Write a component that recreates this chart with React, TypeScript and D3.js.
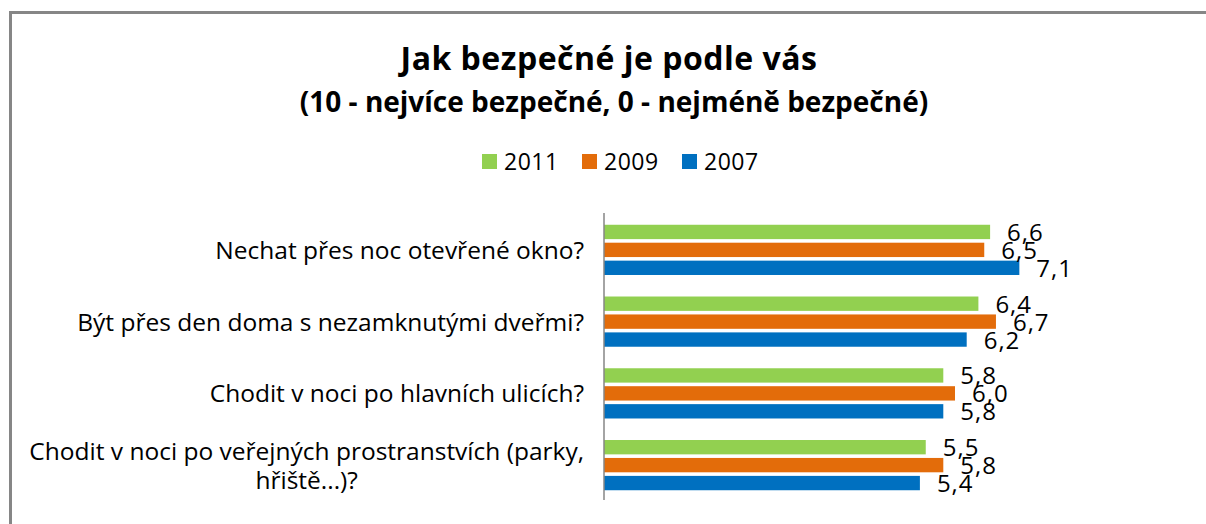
import React, { useEffect, useRef } from "react";
import * as d3 from "d3";

const categories = [
  ["Nechat přes noc otevřené okno?"],
  ["Být přes den doma s nezamknutými dveřmi?"],
  ["Chodit v noci po hlavních ulicích?"],
  ["Chodit v noci po veřejných prostranstvích (parky,", "hřiště...)?"],
];
const seriesNames = ["2011", "2009", "2007"];
const values2011 = [6.6, 6.4, 5.8, 5.5];
const values2009 = [6.5, 6.7, 6.0, 5.8];
const values2007 = [7.1, 6.2, 5.8, 5.4];
const colors = ["#92D050", "#E36C0A", "#0070C0"];
const titleLine1 = "Jak bezpečné je podle vás";
const titleLine2 = "(10 - nejvíce bezpečné, 0 - nejméně bezpečné)";

const W = 1206;
const H = 524;
const FONT = "'Open Sans', Lato, sans-serif";

export default function App() {
  const ref = useRef<SVGSVGElement | null>(null);

  useEffect(() => {
    const svg = d3.select(ref.current);
    svg.selectAll("*").remove();

    svg.append("rect").attr("x", 0).attr("y", 0).attr("width", W).attr("height", H).attr("fill", "#fff");
    // outer frame
    svg
      .append("rect")
      .attr("x", 10.5)
      .attr("y", 12.5)
      .attr("width", W + 20)
      .attr("height", H + 20)
      .attr("fill", "none")
      .attr("stroke", "#868686")
      .attr("stroke-width", 3);

    // titles
    svg
      .append("text")
      .attr("x", 609)
      .attr("y", 70)
      .attr("text-anchor", "middle")
      .attr("font-family", FONT)
      .attr("font-weight", "bold")
      .attr("font-size", 32)
      .attr("letter-spacing", 0.5)
      .attr("fill", "#000")
      .text(titleLine1);
    svg
      .append("text")
      .attr("x", 614)
      .attr("y", 112)
      .attr("text-anchor", "middle")
      .attr("font-family", FONT)
      .attr("font-weight", "bold")
      .attr("font-size", 28)
      .attr("fill", "#000")
      .text(titleLine2);

    // legend
    const legend = svg.append("g");
    seriesNames.forEach((name, i) => {
      const lx = 482 + i * 100;
      legend.append("rect").attr("x", lx).attr("y", 154).attr("width", 15).attr("height", 15).attr("fill", colors[i]);
      legend
        .append("text")
        .attr("x", lx + 22)
        .attr("y", 169.5)
        .attr("font-family", FONT)
        .attr("font-size", 23)
        .attr("letter-spacing", 0.5)
        .attr("fill", "#000")
        .text(name);
    });

    const data = [values2011, values2009, values2007];
    const x = d3.scaleLinear().domain([0, 10]).range([604, 1189]);
    const idx = categories.map((_, i) => String(i));
    const y0 = d3.scaleBand().domain(idx).range([214, 501]).paddingInner(0.25).paddingOuter(0.125);
    const y1 = d3.scaleBand().domain(seriesNames).range([0, y0.bandwidth()]).paddingInner(0.2).paddingOuter(0.1);

    // bars
    data.forEach((vals, si) => {
      svg
        .append("g")
        .selectAll("rect")
        .data(vals)
        .join("rect")
        .attr("x", x(0))
        .attr("y", (_, ci) => (y0(String(ci)) as number) + (y1(seriesNames[si]) as number))
        .attr("width", (v) => x(v) - x(0))
        .attr("height", y1.bandwidth())
        .attr("fill", colors[si]);
    });

    // axis line
    svg
      .append("line")
      .attr("x1", 604)
      .attr("x2", 604)
      .attr("y1", 213)
      .attr("y2", 500)
      .attr("stroke", "#868686")
      .attr("stroke-width", 1.5);

    // value labels
    data.forEach((vals, si) => {
      svg
        .append("g")
        .selectAll("text")
        .data(vals)
        .join("text")
        .attr("x", (v) => x(v) + 17)
        .attr("y", (_, ci) => (y0(String(ci)) as number) + (y1(seriesNames[si]) as number) + y1.bandwidth() / 2 + 9)
        .attr("font-family", FONT)
        .attr("font-size", 24)
        .attr("letter-spacing", 1)
        .attr("fill", "#000")
        .text((v) => d3.format(".1f")(v).replace(".", ","));
    });

    // category labels
    const rightEdge = 584;
    const lineH = 29;
    categories.forEach((lines, ci) => {
      const cy = (y0(String(ci)) as number) + y0.bandwidth() / 2;
      const g = svg.append("g");
      const texts = lines.map((ln, li) =>
        g
          .append("text")
          .attr("y", cy + (li - (lines.length - 1) / 2) * lineH + 9)
          .attr("font-family", FONT)
          .attr("font-size", 24.5)
          .attr("fill", "#000")
          .attr("text-anchor", "middle")
          .text(ln)
      );
      const widths = texts.map((t) => (t.node() as SVGTextElement).getComputedTextLength());
      const maxW = Math.max(...widths);
      texts.forEach((t) => t.attr("x", rightEdge - maxW / 2));
    });
  }, []);

  return (
    <svg
      ref={ref}
      width={W}
      height={H}
      style={{ position: "absolute", left: 0, top: 0, display: "block" }}
    />
  );
}
